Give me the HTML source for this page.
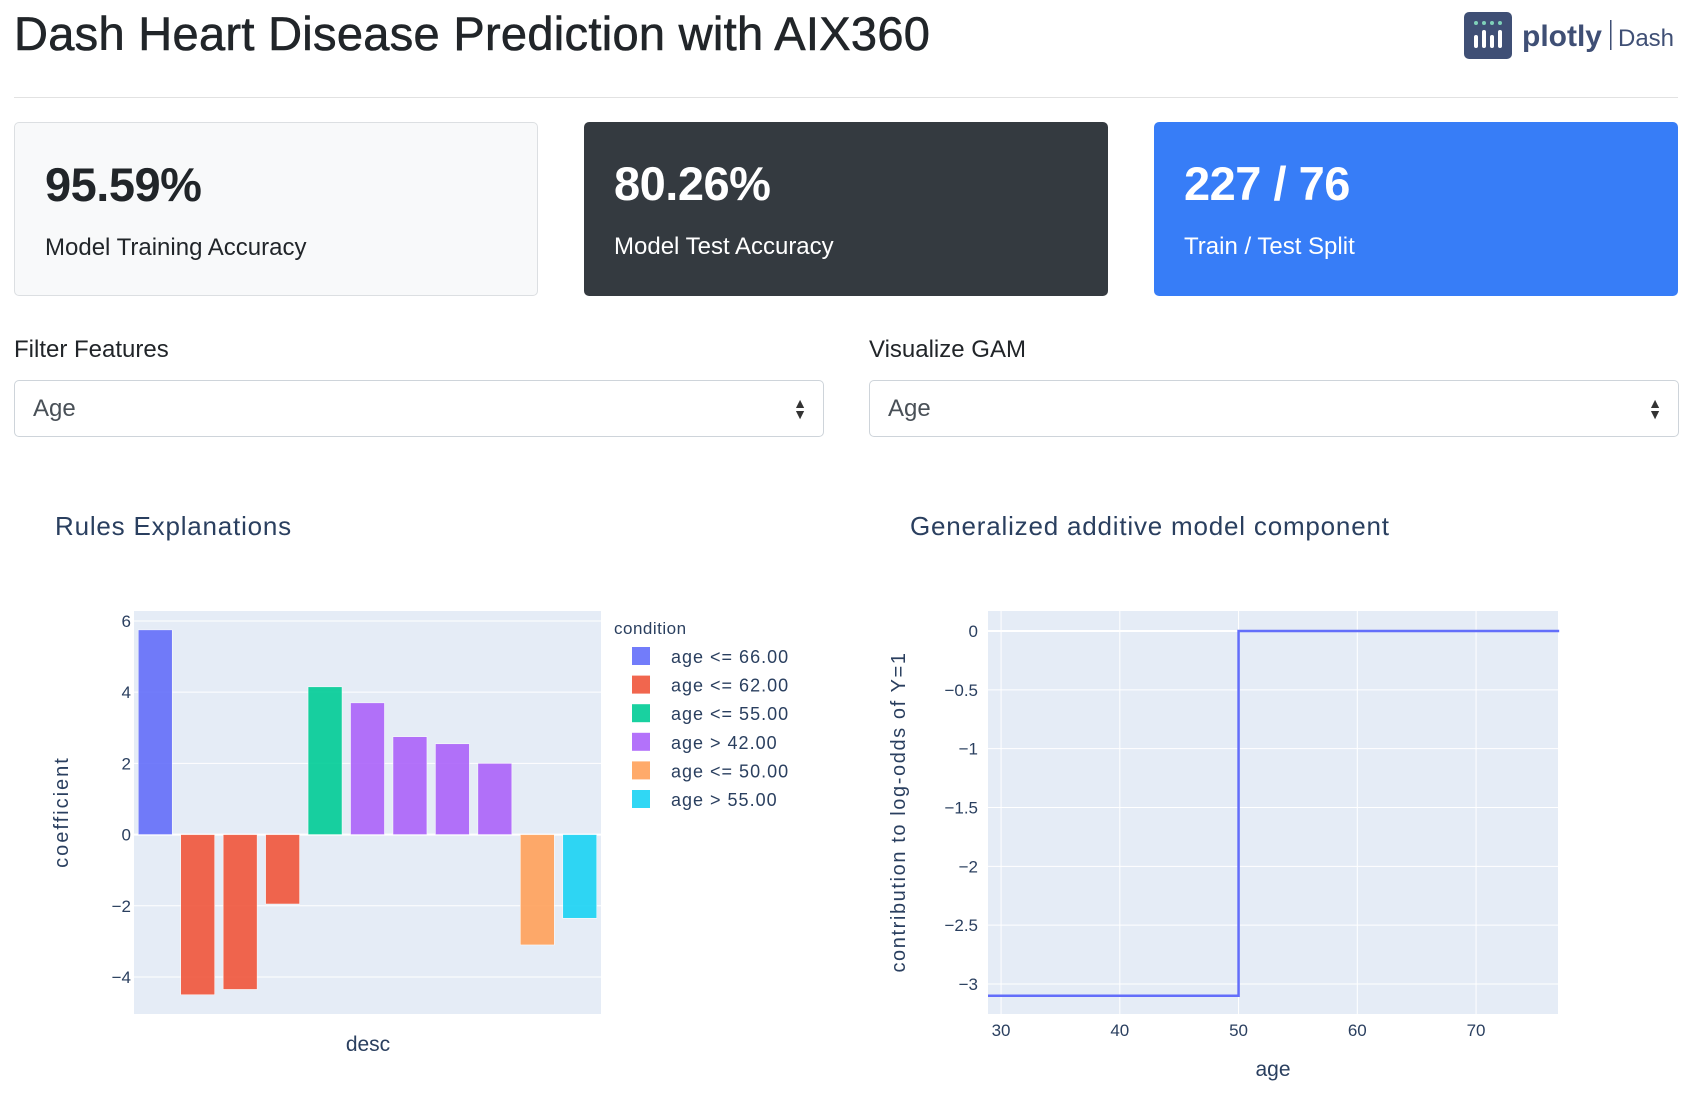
<!DOCTYPE html>
<html><head><meta charset="utf-8">
<style>
body{margin:0;width:1692px;height:1102px;background:#fff;font-family:"Liberation Sans",sans-serif;color:#212529;position:relative;overflow:hidden}
.abs{position:absolute}
h1{position:absolute;left:14px;top:4px;margin:0;font-weight:normal;font-size:47px;line-height:60px;letter-spacing:0.3px;-webkit-text-stroke:0.6px #212529}
.card{position:absolute;top:122px;width:524px;height:174px;border-radius:5px;box-sizing:border-box}
.card .num{position:absolute;left:30px;top:34px;font-size:47px;font-weight:bold;letter-spacing:-0.5px}
.card .lbl{position:absolute;left:30px;top:111px;font-size:24px}
.lab{position:absolute;top:336px;font-size:24px}
.sel{position:absolute;top:380px;height:57px;width:810px;border:1px solid #ced4da;border-radius:5px;box-sizing:border-box;font-size:24px;line-height:55px;padding-left:18px;color:#495057}
.sel .arr{position:absolute;right:16px;top:0;font-size:14px;line-height:11px;padding-top:17px;color:#333}
svg text{font-family:"Liberation Sans",sans-serif}
</style></head><body>
<h1>Dash Heart Disease Prediction with AIX360</h1>
<div class="abs" style="left:1464px;top:12px;width:230px;height:48px">
 <svg width="230" height="48">
  <rect x="0" y="0" width="48" height="47" rx="5" fill="#3f4f75"/>
  <g fill="#7fd1b9"><circle cx="12" cy="11" r="2"/><circle cx="20" cy="11" r="2"/><circle cx="28" cy="11" r="2"/><circle cx="36" cy="11" r="2"/></g>
  <g fill="#fff"><rect x="10" y="23" width="4" height="13" rx="2"/><rect x="18" y="18" width="4" height="18" rx="2"/><rect x="26" y="23" width="4" height="13" rx="2"/><rect x="34" y="18" width="4" height="18" rx="2"/></g>
  <text x="58" y="34" font-size="30" font-weight="bold" fill="#3f4f75">plotly</text>
  <rect x="146" y="8" width="1.5" height="30" fill="#3f4f75"/>
  <text x="154" y="34" font-size="24" fill="#3f4f75">Dash</text>
 </svg>
</div>
<div class="abs" style="left:14px;top:97px;width:1664px;height:1px;background:#e2e2e2"></div>

<div class="card" style="left:14px;background:#f8f9fa;border:1px solid #dcdfe2">
 <div class="num">95.59%</div><div class="lbl">Model Training Accuracy</div></div>
<div class="card" style="left:584px;background:#343a40;color:#fff">
 <div class="num">80.26%</div><div class="lbl">Model Test Accuracy</div></div>
<div class="card" style="left:1154px;background:#377df7;color:#fff">
 <div class="num">227 / 76</div><div class="lbl">Train / Test Split</div></div>

<div class="lab" style="left:14px">Filter Features</div>
<div class="sel" style="left:14px">Age<span class="arr">▲<br>▼</span></div>
<div class="lab" style="left:869px">Visualize GAM</div>
<div class="sel" style="left:869px">Age<span class="arr">▲<br>▼</span></div>

<svg id="bar" class="abs" style="left:0;top:480px" width="846" height="622"></svg>
<svg id="gam" class="abs" style="left:846px;top:480px" width="846" height="622"></svg>

<script>
const barValues=[5.75,-4.5,-4.35,-1.95,4.15,3.7,2.75,2.55,2.0,-3.1,-2.35];
const barGroups=[0,1,1,1,2,3,3,3,3,4,5];
const legendLabels=["age <= 66.00","age <= 62.00","age <= 55.00","age > 42.00","age <= 50.00","age > 55.00"];
const legendColors=["#636efa","#EF553B","#00cc96","#ab63fa","#FFA15A","#19d3f3"];
const barTicks=[-4,-2,0,2,4,6];
const gamX=[28.9,50,50,77];
const gamY=[-3.1,-3.1,0,0];
const gamXTicks=[30,40,50,60,70];
const gamYTicks=[0,-0.5,-1,-1.5,-2,-2.5,-3];
const gamYTickLabels=["0","−0.5","−1","−1.5","−2","−2.5","−3"];

const NS="http://www.w3.org/2000/svg";
function mk(svg,tag,attrs,txt){const e=document.createElementNS(NS,tag);for(const k in attrs)e.setAttribute(k,attrs[k]);if(txt!==undefined)e.textContent=txt;svg.appendChild(e);return e;}
const T="#2a3f5f";

(function(){
 const s=document.getElementById('bar');
 const L=134,R=601,Tp=131,B=534,ymin=-5.04,ymax=6.28;
 const y=v=>Tp+(ymax-v)/(ymax-ymin)*(B-Tp);
 let t=mk(s,'text',{x:55,y:55,'font-size':26,fill:T,'letter-spacing':0.8},'Rules Explanations');
 
 
 let bg=mk(s,'rect',{x:L,y:Tp,width:R-L,height:B-Tp,fill:'#e5ecf6'});
 
 
 barTicks.forEach(v=>{
  let g=mk(s,'line',{x1:L,x2:R,y1:y(v),y2:y(v),stroke:'#fff','stroke-width':v===0?2:1});
  
  
  let tl=mk(s,'text',{x:L-3,y:y(v)+6,'text-anchor':'end','font-size':17,fill:T},(v<0?'−'+(-v):''+v));
  
  
 });
 const bw=(R-L)/barValues.length;
 barValues.forEach((v,i)=>{
  const x=L+i*bw+bw*0.1,y0=y(0),y1=y(v);
  let r=mk(s,'rect',{x:x,y:Math.min(y0,y1),width:bw*0.8,height:Math.abs(y1-y0),fill:legendColors[barGroups[i]],'fill-opacity':0.9,stroke:'#fff','stroke-width':0.5});
  
  
 });
 t=mk(s,'text',{x:68,y:332,'font-size':20,fill:T,'text-anchor':'middle','letter-spacing':2,transform:'rotate(-90 68 332)'},'coefficient');
 
 
 t=mk(s,'text',{x:368,y:571,'font-size':21,fill:T,'text-anchor':'middle'},'desc');
 
 
 t=mk(s,'text',{x:614,y:154,'font-size':17,fill:T,'letter-spacing':0.5},'condition');
 
 
 legendLabels.forEach((lb,i)=>{
  const yy=176+i*28.6;
  let r=mk(s,'rect',{x:632,y:yy-9,width:18,height:18,fill:legendColors[i],'fill-opacity':0.9});
  
  
  let tx=mk(s,'text',{x:671,y:yy+7,'font-size':18,fill:T,'letter-spacing':1},lb);
  
  
 });
})();

(function(){
 const s=document.getElementById('gam');
 const L=142,R=712,Tp=131,B=534,xmin=28.9,xmax=76.9,ymin=-3.255,ymax=0.17;
 const x=v=>L+(v-xmin)/(xmax-xmin)*(R-L);
 const y=v=>Tp+(ymax-v)/(ymax-ymin)*(B-Tp);
 let t=mk(s,'text',{x:64,y:55,'font-size':26,fill:T,'letter-spacing':0.8},'Generalized additive model component');
 
 
 let bg=mk(s,'rect',{x:L,y:Tp,width:R-L,height:B-Tp,fill:'#e5ecf6'});
 
 
 gamXTicks.forEach(v=>{
  let g=mk(s,'line',{x1:x(v),x2:x(v),y1:Tp,y2:B,stroke:'#fff','stroke-width':1});
  
  
  let tl=mk(s,'text',{x:x(v),y:B+22,'text-anchor':'middle','font-size':17,fill:T},''+v);
  
  
 });
 gamYTicks.forEach((v,i)=>{
  let g=mk(s,'line',{x1:L,x2:R,y1:y(v),y2:y(v),stroke:'#fff','stroke-width':v===0?2:1});
  
  
  let tl=mk(s,'text',{x:L-10,y:y(v)+6,'text-anchor':'end','font-size':17,fill:T},gamYTickLabels[i]);
  
  
 });
 const pts=gamX.map((v,i)=>x(v)+','+y(gamY[i])).join(' ');
 let pl=mk(s,'polyline',{points:pts,fill:'none',stroke:'#636efa','stroke-width':2.5});
 
 
 t=mk(s,'text',{x:59,y:332,'font-size':20,fill:T,'text-anchor':'middle','letter-spacing':1.6,transform:'rotate(-90 59 332)'},'contribution to log-odds of Y=1');
 
 
 t=mk(s,'text',{x:427,y:596,'font-size':21,fill:T,'text-anchor':'middle'},'age');
 
 
})();
</script>
</body></html>
